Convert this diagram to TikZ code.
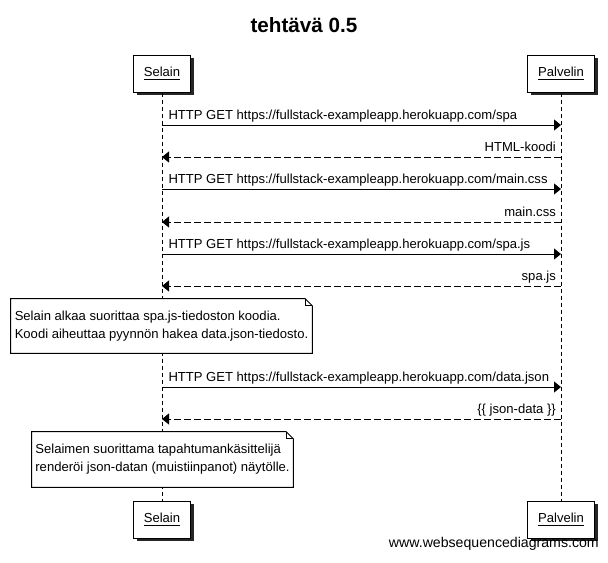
\documentclass[tikz,border=0pt]{standalone}
\usepackage{fontspec}
\setmainfont{Liberation Sans}
\usetikzlibrary{arrows.meta}
\usetikzlibrary{shadows}
\usetikzlibrary{backgrounds}

\tikzset{
  msgfont/.style={font=\fontsize{9.8}{13.5}\selectfont},
  actor/.style={draw, fill=white, line width=0.75pt, msgfont, inner xsep=8pt,
    minimum height=27.75pt,
    drop shadow={shadow xshift=2.5pt, shadow yshift=-2.5pt, fill=black, opacity=0.85}},
  lifeline/.style={line width=0.75pt, dash pattern=on 3pt off 2.25pt},
  req/.style={line width=0.75pt, -{Triangle[length=5.25pt,width=8.25pt]}},
  resp/.style={req, dash pattern=on 5pt off 2.5pt},
  reqlbl/.style={pos=0, anchor=base west, inner sep=0pt, msgfont, xshift=4.5pt, yshift=4pt},
  resplbl/.style={pos=0, anchor=base east, inner sep=0pt, msgfont, xshift=-3.5pt, yshift=4pt},
  note/.style={fill=white, msgfont, align=left, inner xsep=0pt, inner ysep=0pt},
  notefr/.style={line width=0.75pt}
}

\begin{document}
\begin{tikzpicture}[x=0.75pt, y=-0.75pt]
\node[font=\bfseries\fontsize{15.5}{18}\selectfont, anchor=base] (title) at (304,32) {tehtävä 0.5};
\node[actor] (selain) at (162,73.5) {\underline{Selain}};
\node[actor] (palvelin) at (561,73.5) {\underline{Palvelin}};
\node[actor] (selainB) at (162,519.5) {\underline{Selain}};
\node[actor] (palvelinB) at (561,519.5) {\underline{Palvelin}};
\begin{scope}[on background layer]
\fill[white] (0,0) rectangle (608,562);
\draw[lifeline] (selain.south) -- (selainB.north);
\draw[lifeline] (palvelin.south) -- (palvelinB.north);
\end{scope}
\foreach \n/\y in {1/125,2/157,3/189,4/222,5/254,6/286,7/387,8/419}{
  \coordinate (s\n) at (selain |- 0,\y);
  \coordinate (p\n) at (palvelin |- 0,\y);
}
\draw[req] (s1) -- (p1) node[reqlbl] {HTTP GET https://fullstack-exampleapp.herokuapp.com/spa};
\draw[resp] (p2) -- (s2) node[resplbl] {HTML-koodi};
\draw[req] (s3) -- (p3) node[reqlbl] {HTTP GET https://fullstack-exampleapp.herokuapp.com/main.css};
\draw[resp] (p4) -- (s4) node[resplbl] {main.css};
\draw[req] (s5) -- (p5) node[reqlbl] {HTTP GET https://fullstack-exampleapp.herokuapp.com/spa.js};
\draw[resp] (p6) -- (s6) node[resplbl] {spa.js};
\node[note, minimum width=225.75pt, minimum height=40.5pt] (note1) at (161.5,326)
  {Selain alkaa suorittaa spa.js-tiedoston koodia.\\Koodi aiheuttaa pyynnön hakea data.json-tiedosto.};
\draw[notefr] (note1.south west) -- (note1.north west) -- ([xshift=-5.25pt]note1.north east)
  -- ([yshift=-5.25pt]note1.north east) -- (note1.south east) -- cycle;
\draw[notefr] ([xshift=-5.25pt]note1.north east) -- ([xshift=-5.25pt,yshift=-5.25pt]note1.north east)
  -- ([yshift=-5.25pt]note1.north east);
\draw[req] (s7) -- (p7) node[reqlbl] {HTTP GET https://fullstack-exampleapp.herokuapp.com/data.json};
\draw[resp] (p8) -- (s8) node[resplbl] {\{\{ json-data \}\}};
\node[note, minimum width=195.75pt, minimum height=41.25pt] (note2) at (162.5,459.5)
  {Selaimen suorittama tapahtumankäsittelijä\\renderöi json-datan (muistiinpanot) näytölle.};
\draw[notefr] (note2.south west) -- (note2.north west) -- ([xshift=-5.25pt]note2.north east)
  -- ([yshift=-5.25pt]note2.north east) -- (note2.south east) -- cycle;
\draw[notefr] ([xshift=-5.25pt]note2.north east) -- ([xshift=-5.25pt,yshift=-5.25pt]note2.north east)
  -- ([yshift=-5.25pt]note2.north east);
\node[anchor=base east, inner sep=0pt, font=\fontsize{10.6}{12}\selectfont] (wsd) at (599,547) {www.websequencediagrams.com};
\end{tikzpicture}
\end{document}
